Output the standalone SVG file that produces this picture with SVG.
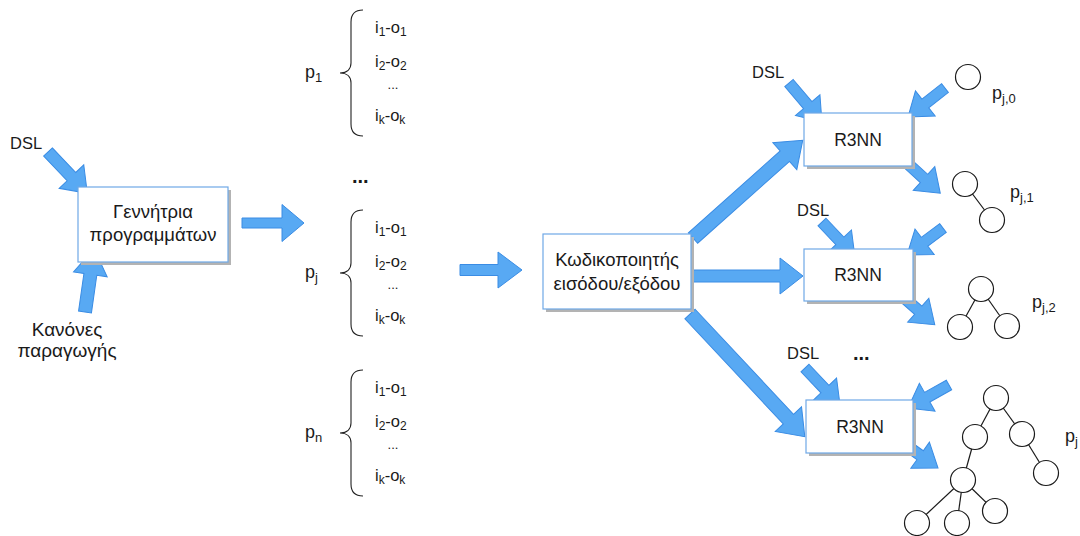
<svg xmlns="http://www.w3.org/2000/svg" width="1080" height="536" viewBox="0 0 1080 536">
<style>
text{font-family:"Liberation Sans",Arial,sans-serif;fill:#1a1a1a}
.box{fill:#fff;stroke:#6fa8e6;stroke-width:1.2}
.shadow{fill:#b3b3b3}
.arr{fill:#58a9f3;stroke:#3a8ce4;stroke-width:1}
.brace{fill:none;stroke:#222;stroke-width:1.1}
.c{fill:#fff;stroke:#1a1a1a;stroke-width:1.2}
.e{stroke:#1a1a1a;stroke-width:1.2}
.item{font-size:16.5px}
.sb{font-size:12px}
.lbl{font-size:18px}
.lsb{font-size:13px}
.t17{font-size:17.5px}
.t18{font-size:18.5px}
.t19{font-size:19px}
.dsl{font-size:16.5px}
.dots{font-size:13px}
.bdots{font-size:20px;font-weight:bold}
</style>
<g id="connectors">
<path class="arr" transform="translate(48,152) rotate(46.4)" d="M0,-6 L34,-6 L34,-17 L57,0 L34,17 L34,6 L0,6 Z"/>
<path class="arr" transform="translate(85,312) rotate(-81.9)" d="M0,-6.5 L38,-6.5 L38,-17 L64,0 L38,17 L38,6.5 L0,6.5 Z"/>
<path class="arr" transform="translate(242,223)" d="M0,-5 L40,-5 L40,-18.5 L62,0 L40,18.5 L40,5 L0,5 Z"/>
<path class="arr" transform="translate(460,270)" d="M0,-5.5 L38,-5.5 L38,-18 L62,0 L38,18 L38,5.5 L0,5.5 Z"/>
<path class="arr" transform="translate(693,238) rotate(-41.7)" d="M0,-7 L123,-7 L123,-18 L147,0 L123,18 L123,7 L0,7 Z"/>
<path class="arr" transform="translate(693,276)" d="M0,-6 L87,-6 L87,-18 L110,0 L87,18 L87,6 L0,6 Z"/>
<path class="arr" transform="translate(690,314) rotate(46.9)" d="M0,-7 L144,-7 L144,-18 L168,0 L144,18 L144,7 L0,7 Z"/>
<path class="arr" transform="translate(789,83) rotate(49.8)" d="M0,-5.5 L29,-5.5 L29,-16 L51,0 L29,16 L29,5.5 L0,5.5 Z"/>
<path class="arr" transform="translate(945,88) rotate(141.9)" d="M0,-5.5 L25,-5.5 L25,-16 L47,0 L25,16 L25,5.5 L0,5.5 Z"/>
<path class="arr" transform="translate(907,163) rotate(42.3)" d="M0,-5.5 L23,-5.5 L23,-16 L45,0 L23,16 L23,5.5 L0,5.5 Z"/>
<path class="arr" transform="translate(822,222) rotate(46.7)" d="M0,-5.5 L26,-5.5 L26,-16 L48,0 L26,16 L26,5.5 L0,5.5 Z"/>
<path class="arr" transform="translate(943,228) rotate(143.1)" d="M0,-5.5 L23,-5.5 L23,-16 L45,0 L23,16 L23,5.5 L0,5.5 Z"/>
<path class="arr" transform="translate(901,295) rotate(41.4)" d="M0,-5.5 L23,-5.5 L23,-16 L45,0 L23,16 L23,5.5 L0,5.5 Z"/>
<path class="arr" transform="translate(805,368) rotate(46.6)" d="M0,-5.5 L29,-5.5 L29,-16 L51,0 L29,16 L29,5.5 L0,5.5 Z"/>
<path class="arr" transform="translate(949,385) rotate(150.7)" d="M0,-5.5 L25,-5.5 L25,-16 L47,0 L25,16 L25,5.5 L0,5.5 Z"/>
<path class="arr" transform="translate(903,443) rotate(35.5)" d="M0,-5.5 L21,-5.5 L21,-16 L43,0 L21,16 L21,5.5 L0,5.5 Z"/>
</g>
<g id="dsl-labels">
<text class="dsl" x="10" y="149">DSL</text>
<text class="dsl" x="752" y="78">DSL</text>
<text class="dsl" x="797" y="216">DSL</text>
<text class="dsl" x="787" y="359">DSL</text>
<text class="bdots" x="853" y="360">...</text>
</g>
<g id="rules-label">
<text class="t19" x="67" y="336" text-anchor="middle">Κανόνες</text>
<text class="t19" x="67" y="357" text-anchor="middle">παραγωγής</text>
</g>
<g id="generator">
<rect class="shadow" x="81" y="190" width="150" height="75"/>
<rect class="box" x="78" y="187" width="150" height="75"/>
<text class="t18" x="153" y="218" text-anchor="middle">Γεννήτρια</text>
<text class="t18" x="153" y="241" text-anchor="middle">προγραμμάτων</text>
</g>
<g id="p1">
<text class="lbl" x="305" y="78">p<tspan class="lsb" dy="4">1</tspan></text>
<path class="brace" d="M363,10 C355,10 351,14 351,22 L351,63 C351,69 347,73 340,73 C347,73 351,77 351,83 L351,124 C351,132 355,136 363,136"/>
<text class="item" x="375" y="33">i<tspan class="sb" dy="3">1</tspan><tspan dy="-3">-o</tspan><tspan class="sb" dy="3">1</tspan></text>
<text class="item" x="375" y="67">i<tspan class="sb" dy="3">2</tspan><tspan dy="-3">-o</tspan><tspan class="sb" dy="3">2</tspan></text>
<text class="dots" x="393" y="89" text-anchor="middle">...</text>
<text class="item" x="375" y="121">i<tspan class="sb" dy="3">k</tspan><tspan dy="-3">-o</tspan><tspan class="sb" dy="3">k</tspan></text>
</g>
<text class="bdots" x="352" y="183">...</text>
<g id="pj">
<text class="lbl" x="305" y="278">p<tspan class="lsb" dy="4">j</tspan></text>
<path class="brace" d="M363,210 C355,210 351,214 351,222 L351,263 C351,269 347,273 340,273 C347,273 351,277 351,283 L351,324 C351,332 355,336 363,336"/>
<text class="item" x="375" y="233">i<tspan class="sb" dy="3">1</tspan><tspan dy="-3">-o</tspan><tspan class="sb" dy="3">1</tspan></text>
<text class="item" x="375" y="267">i<tspan class="sb" dy="3">2</tspan><tspan dy="-3">-o</tspan><tspan class="sb" dy="3">2</tspan></text>
<text class="dots" x="393" y="289" text-anchor="middle">...</text>
<text class="item" x="375" y="321">i<tspan class="sb" dy="3">k</tspan><tspan dy="-3">-o</tspan><tspan class="sb" dy="3">k</tspan></text>
</g>
<g id="pn">
<text class="lbl" x="305" y="438">p<tspan class="lsb" dy="4">n</tspan></text>
<path class="brace" d="M363,370 C355,370 351,374 351,382 L351,423 C351,429 347,433 340,433 C347,433 351,437 351,443 L351,484 C351,492 355,496 363,496"/>
<text class="item" x="375" y="393">i<tspan class="sb" dy="3">1</tspan><tspan dy="-3">-o</tspan><tspan class="sb" dy="3">1</tspan></text>
<text class="item" x="375" y="427">i<tspan class="sb" dy="3">2</tspan><tspan dy="-3">-o</tspan><tspan class="sb" dy="3">2</tspan></text>
<text class="dots" x="393" y="449" text-anchor="middle">...</text>
<text class="item" x="375" y="481">i<tspan class="sb" dy="3">k</tspan><tspan dy="-3">-o</tspan><tspan class="sb" dy="3">k</tspan></text>
</g>
<g id="encoder">
<rect class="shadow" x="546" y="237" width="148" height="75"/>
<rect class="box" x="543" y="234" width="148" height="75"/>
<text class="t18" x="617" y="266" text-anchor="middle">Κωδικοποιητής</text>
<text class="t18" x="617" y="290" text-anchor="middle">εισόδου/εξόδου</text>
</g>
<g id="r3nn1">
<rect class="shadow" x="807" y="116" width="108" height="53"/>
<rect class="box" x="804" y="113" width="108" height="53"/>
<text class="t17" x="858" y="146" text-anchor="middle">R3NN</text>
</g>
<g id="r3nn2">
<rect class="shadow" x="807" y="252" width="109" height="52"/>
<rect class="box" x="804" y="249" width="109" height="52"/>
<text class="t17" x="858" y="281" text-anchor="middle">R3NN</text>
</g>
<g id="r3nn3">
<rect class="shadow" x="809" y="403" width="107" height="53"/>
<rect class="box" x="806" y="400" width="107" height="53"/>
<text class="t17" x="860" y="433" text-anchor="middle">R3NN</text>
</g>
<g id="tree0">
<circle class="c" cx="968" cy="77" r="12.5"/>
<text class="lbl" x="992" y="99">p<tspan class="lsb" dy="4">j,0</tspan></text>
</g>
<g id="tree1">
<line class="e" x1="965" y1="184" x2="992" y2="220"/>
<circle class="c" cx="965" cy="184" r="12.5"/>
<circle class="c" cx="992" cy="220" r="12.5"/>
<text class="lbl" x="1010" y="198">p<tspan class="lsb" dy="4">j,1</tspan></text>
</g>
<g id="tree2">
<line class="e" x1="981" y1="289" x2="960" y2="327"/>
<line class="e" x1="981" y1="289" x2="1007" y2="326"/>
<circle class="c" cx="981" cy="289" r="12.5"/>
<circle class="c" cx="960" cy="327" r="12.5"/>
<circle class="c" cx="1007" cy="326" r="12.5"/>
<text class="lbl" x="1032" y="308">p<tspan class="lsb" dy="4">j,2</tspan></text>
</g>
<g id="treej">
<line class="e" x1="996" y1="398" x2="975" y2="437"/>
<line class="e" x1="996" y1="398" x2="1022" y2="434"/>
<line class="e" x1="1022" y1="434" x2="1046" y2="473"/>
<line class="e" x1="975" y1="437" x2="963" y2="480"/>
<line class="e" x1="963" y1="480" x2="917" y2="523"/>
<line class="e" x1="963" y1="480" x2="957" y2="523"/>
<line class="e" x1="963" y1="480" x2="995" y2="511"/>
<circle class="c" cx="996" cy="398" r="12.5"/>
<circle class="c" cx="975" cy="437" r="12.5"/>
<circle class="c" cx="1022" cy="434" r="12.5"/>
<circle class="c" cx="1046" cy="473" r="12.5"/>
<circle class="c" cx="963" cy="480" r="12.5"/>
<circle class="c" cx="917" cy="523" r="12.5"/>
<circle class="c" cx="957" cy="523" r="12.5"/>
<circle class="c" cx="995" cy="511" r="12.5"/>
<text class="lbl" x="1065" y="442">p<tspan class="lsb" dy="4">j</tspan></text>
</g>
</svg>
